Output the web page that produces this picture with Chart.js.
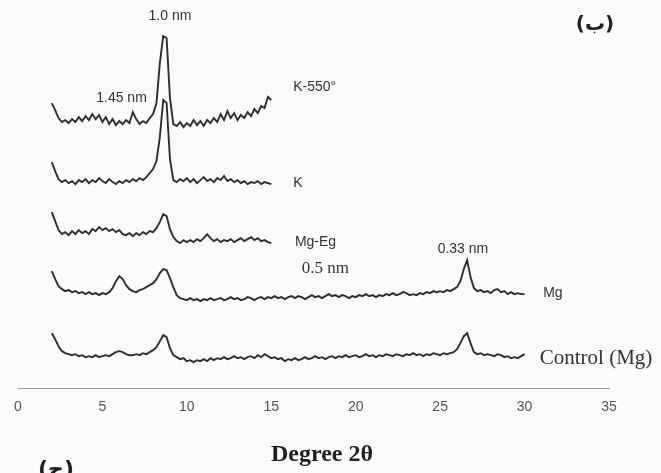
<!DOCTYPE html>
<html>
<head>
<meta charset="utf-8">
<script src="https://cdn.jsdelivr.net/npm/chart.js@4.4.1/dist/chart.umd.min.js"></script>
<style>
  html, body { margin: 0; padding: 0; background: #fbfbfb; }
  #wrap { width: 661px; height: 473px; }
</style>
</head>
<body>
<div id="wrap"><canvas id="xrd" width="661" height="473"></canvas></div>
<script>
// 2-theta positions (degrees), 0.2 deg steps
const twoTheta = [
  2.0, 2.2, 2.4, 2.6, 2.8, 3.0, 3.2, 3.4, 3.6, 3.8,
  4.0, 4.2, 4.4, 4.6, 4.8, 5.0, 5.2, 5.4, 5.6, 5.8,
  6.0, 6.2, 6.4, 6.6, 6.8, 7.0, 7.2, 7.4, 7.6, 7.8,
  8.0, 8.2, 8.4, 8.6, 8.8, 9.0, 9.2, 9.4, 9.6, 9.8,
  10.0, 10.2, 10.4, 10.6, 10.8, 11.0, 11.2, 11.4, 11.6, 11.8,
  12.0, 12.2, 12.4, 12.6, 12.8, 13.0, 13.2, 13.4, 13.6, 13.8,
  14.0, 14.2, 14.4, 14.6, 14.8, 15.0, 15.2, 15.4, 15.6, 15.8,
  16.0, 16.2, 16.4, 16.6, 16.8, 17.0, 17.2, 17.4, 17.6, 17.8,
  18.0, 18.2, 18.4, 18.6, 18.8, 19.0, 19.2, 19.4, 19.6, 19.8,
  20.0, 20.2, 20.4, 20.6, 20.8, 21.0, 21.2, 21.4, 21.6, 21.8,
  22.0, 22.2, 22.4, 22.6, 22.8, 23.0, 23.2, 23.4, 23.6, 23.8,
  24.0, 24.2, 24.4, 24.6, 24.8, 25.0, 25.2, 25.4, 25.6, 25.8,
  26.0, 26.2, 26.4, 26.6, 26.8, 27.0, 27.2, 27.4, 27.6, 27.8,
  28.0, 28.2, 28.4, 28.6, 28.8, 29.0, 29.2, 29.4, 29.6, 29.8,
  30.0
];

const xTicks = [0, 5, 10, 15, 20, 25, 30, 35];

const seriesNames = ["K-550°", "K", "Mg-Eg", "Mg", "Control (Mg)"];
// vertical stacking offset of each pattern (arbitrary intensity units)
const stackOffsets = [260, 203, 145, 91, 32];

// intensities (2 - 15 deg)
const k550 = [
  25, 18, 10, 6, 8, 5, 9, 6, 11, 7,
  12, 8, 14, 9, 13, 6, 11, 4, 9, 3,
  7, 4, 8, 5, 16, 9, 4, 7, 5, 10,
  14, 25, 65, 92, 90, 30, 4, 2, 6, 1,
  5, 2, 8, 3, 7, 2, 8, 5, 10, 6,
  14, 8, 17, 10, 15, 8, 13, 10, 16, 12,
  19, 15, 22, 20, 31, 28
];
const kSat = [
  23, 14, 6, 3, 5, 2, 4, 1, 5, 3,
  6, 2, 5, 3, 7, 4, 2, 6, 3, 1,
  4, 2, 5, 3, 6, 4, 7, 5, 8, 12,
  16, 24, 48, 85, 82, 26, 5, 3, 6, 4,
  7, 3, 6, 2, 5, 8, 4, 6, 3, 7,
  5, 9, 4, 6, 3, 5, 2, 4, 1, 3,
  2, 4, 1, 3, 2, 1
];
const mgEg = [
  31, 22, 13, 9, 11, 8, 12, 9, 13, 10,
  12, 9, 14, 12, 16, 13, 15, 12, 14, 11,
  13, 9, 8, 10, 7, 10, 8, 11, 9, 12,
  11, 15, 21, 29, 27, 14, 6, 2, 0, 3,
  1, 3, 1, 4, 2, 5, 9, 5, 2, 4,
  1, 3, 2, 4, 1, 3, 5, 2, 4, 6,
  3, 5, 2, 3, 1, 0
];
// intensities 2 - 30 deg
const mgSat = [
  26, 18, 11, 8, 6, 7, 5, 6, 4, 5,
  3, 5, 3, 4, 2, 4, 3, 5, 9, 16,
  21, 18, 12, 8, 6, 5, 7, 8, 10, 12,
  14, 18, 24, 28, 27, 19, 10, 2, -1, -2,
  -3, -1, -3, -2, -4, -2, -3, -1, -3, -2,
  -1, -3, -2, 0, -2, -1, -3, -2, 0, -1,
  -3, -1, 0, -2, 0, -1, 1, -1, 0, -2,
  0, 1, -1, 1, 0, -2, 0, 2, 0, 1,
  -1, 1, 3, 1, 2, 0, 2, 1, -1, 1,
  0, 2, 1, 3, 1, 2, 0, 2, 1, 3,
  2, 4, 2, 3, 5, 4, 2, 3, 2, 4,
  3, 5, 4, 6, 5, 6, 5, 7, 6, 8,
  10, 16, 28, 37, 20, 9, 6, 7, 5, 6,
  4, 7, 8, 5, 6, 3, 5, 3, 4, 3,
  3
];
const control = [
  23, 17, 10, 5, 3, 2, 1, 2, 0, 1,
  -1, 0, -1, 1, -1, 0, 1, 0, 2, 4,
  5, 4, 2, 1, 1, 2, 1, 3, 2, 4,
  6, 9, 15, 21, 19, 8, 1, -1, -3, -2,
  -5, -4, -6, -4, -5, -3, -5, -2, -4, -2,
  -3, -1, -3, -2, 0, -2, -1, -3, -1, 0,
  -2, 1, -1, 2, 0, -2, -1, -3, -2, -5,
  -3, -4, -2, -4, -3, -1, -3, -2, 0, -2,
  -1, -3, -1, 0, -2, 0, -1, 1, -1, 0,
  1, -1, 0, 2, 0, 1, -1, 1, 0, 2,
  1, 0, 2, 1, 0, 2, 1, 3, 1, 2,
  0, 2, 1, 3, 2, 1, 3, 2, 3, 4,
  7, 13, 20, 23, 13, 4, 2, 3, 1, 2,
  1, 0, 2, 1, -1, 0, -2, -1, -2, 0,
  2
];

const patterns = [k550, kSat, mgEg, mgSat, control];

// d-spacing notes and trace names, placed in data coordinates
const notes = [
  { text: "1.0 nm", x: 9.0, y: 372, font: "14px 'Liberation Sans'", align: "center" },
  { text: "1.45 nm", x: 6.13, y: 290, font: "14px 'Liberation Sans'", align: "center" },
  { text: "0.33 nm", x: 26.35, y: 139, font: "14px 'Liberation Sans'", align: "center" },
  { text: "0.5 nm", x: 16.8, y: 120, font: "17px 'Liberation Serif'", align: "left" },
  { text: seriesNames[0], x: 16.3, y: 301, font: "14px 'Liberation Sans'", align: "left" },
  { text: seriesNames[1], x: 16.3, y: 205, font: "14px 'Liberation Sans'", align: "left" },
  { text: seriesNames[2], x: 16.4, y: 146, font: "14px 'Liberation Sans'", align: "left" },
  { text: seriesNames[3], x: 31.1, y: 95, font: "14px 'Liberation Sans'", align: "left" },
  { text: seriesNames[4], x: 30.9, y: 30, font: "21px 'Liberation Serif'", align: "left" }
];

function toPoints(vals, offset) {
  return vals.map((v, i) => ({ x: twoTheta[i], y: offset + v }));
}

const datasets = patterns.map((vals, i) => ({
  label: seriesNames[i],
  data: toPoints(vals, stackOffsets[i]),
  borderColor: "#2e2e2e",
  borderWidth: 1.9,
  pointRadius: 0,
  tension: 0,
  fill: false
}));

const textPlugin = {
  id: "textPlugin",
  afterDraw(chart) {
    const ctx = chart.ctx;
    const xs = chart.scales.x, ys = chart.scales.y;
    ctx.save();
    ctx.fillStyle = "#333";
    ctx.textBaseline = "middle";
    notes.forEach((n) => {
      ctx.font = n.font;
      ctx.textAlign = n.align;
      ctx.fillText(n.text, xs.getPixelForValue(n.x), ys.getPixelForValue(n.y));
    });

    // axis title
    ctx.fillStyle = "#222";
    ctx.font = "bold 24px 'Liberation Serif'";
    ctx.textAlign = "center";
    ctx.fillText("Degree 2θ", 322, 455);

    // panel letters
    ctx.font = "bold 20px 'DejaVu Sans'";
    ctx.fillText("(ب)", 595, 25);
    ctx.font = "bold 22px 'DejaVu Sans'";
    ctx.fillText("(ج)", 56, 470);
    ctx.restore();
  }
};

new Chart(document.getElementById("xrd").getContext("2d"), {
  type: "line",
  data: { datasets: datasets },
  plugins: [textPlugin],
  options: {
    responsive: false,
    animation: false,
    layout: { padding: { left: 18, right: 52, top: 10, bottom: 46 } },
    plugins: { legend: { display: false }, tooltip: { enabled: false } },
    scales: {
      x: {
        type: "linear",
        min: 0,
        max: 35,
        afterBuildTicks: (axis) => { axis.ticks = xTicks.map((v) => ({ value: v })); },
        grid: { display: false, drawTicks: false },
        border: { display: true, color: "#9c9c9c", width: 1, dash: [1, 2] },
        ticks: { padding: 11, color: "#555", font: { family: "'Liberation Sans'", size: 14 } }
      },
      y: {
        display: false,
        min: 0,
        max: 378
      }
    }
  }
});
</script>
</body>
</html>
